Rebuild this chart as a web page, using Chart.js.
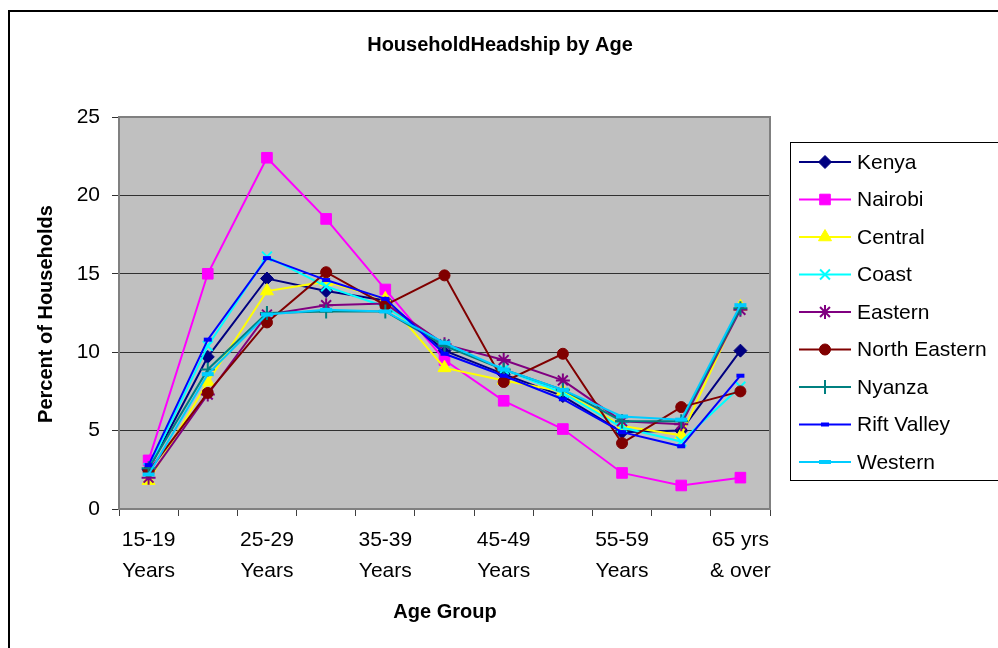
<!DOCTYPE html>
<html>
<head>
<meta charset="utf-8">
<title>HouseholdHeadship by Age</title>
<script src="https://cdn.jsdelivr.net/npm/chart.js@4.4.1/dist/chart.umd.min.js"></script>
<style>
  html, body { margin: 0; padding: 0; background: #fff; }
  canvas { display: block; }
</style>
</head>
<body>
<canvas id="chart" width="998" height="648"></canvas>
<script>
const FONT = '"Liberation Sans", Arial, sans-serif';

/* ------------ data ------------ */
const ageGroups = ['15-19 Years', '20-24 Years', '25-29 Years', '30-34 Years', '35-39 Years', '40-44 Years',
                   '45-49 Years', '50-54 Years', '55-59 Years', '60-64 Years', '65 yrs & over'];
const tickLabels = [['15-19', 'Years'], '', ['25-29', 'Years'], '', ['35-39', 'Years'], '',
                    ['45-49', 'Years'], '', ['55-59', 'Years'], '', ['65 yrs', '& over']];
const yTicks = [0, 5, 10, 15, 20, 25];

const kenya        = [2.5, 9.7, 14.7, 13.9, 13.3, 10.1, 8.6, 7.2, 4.9, 5.0, 10.1];
const nairobi      = [3.1, 15.0, 22.4, 18.5, 14.0, 9.5, 6.9, 5.1, 2.3, 1.5, 2.0];
const central      = [1.8, 8.1, 13.9, 14.5, 13.4, 9.0, 8.2, 7.5, 5.3, 4.7, 12.9];
const coast        = [2.6, 10.4, 16.1, 14.2, 12.9, 10.5, 8.9, 7.4, 5.2, 4.3, 7.8];
const eastern      = [2.0, 7.3, 12.4, 13.0, 13.1, 10.5, 9.5, 8.2, 5.6, 5.4, 12.7];
const northEastern = [2.4, 7.4, 11.9, 15.1, 13.0, 14.9, 8.1, 9.9, 4.2, 6.5, 7.5];
const nyanza       = [2.6, 8.9, 12.5, 12.6, 12.6, 10.4, 8.9, 7.6, 5.6, 5.6, 12.8];
const riftValley   = [2.8, 10.8, 16.0, 14.6, 13.4, 9.9, 8.5, 7.0, 4.9, 4.0, 8.5];
const western      = [2.2, 8.6, 12.4, 12.7, 12.6, 10.6, 8.9, 7.6, 5.9, 5.7, 13.0];

/* ------------ series styling ------------ */
const series = [
  { label: 'Kenya',         data: kenya,        color: '#000080', style: 'rectRot',  r: 6.5, bw: 1 },
  { label: 'Nairobi',       data: nairobi,      color: '#FF00FF', style: 'rect',     r: 7.5, bw: 1 },
  { label: 'Central',       data: central,      color: '#FFFF00', style: 'triangle', r: 7.5, bw: 1 },
  { label: 'Coast',         data: coast,        color: '#00FFFF', style: 'crossRot', r: 7,   bw: 2 },
  { label: 'Eastern',       data: eastern,      color: '#800080', style: 'star',     r: 7,   bw: 2 },
  { label: 'North Eastern', data: northEastern, color: '#800000', style: 'circle',   r: 5.5, bw: 1 },
  { label: 'Nyanza',        data: nyanza,       color: '#008080', style: 'cross',    r: 7,   bw: 2 },
  { label: 'Rift Valley',   data: riftValley,   color: '#0000FF', style: 'line',     r: 4,   bw: 4 },
  { label: 'Western',       data: western,      color: '#00CCFF', style: 'line',     r: 6,   bw: 4 },
];

/* ------------ plugins ------------ */
const plotFrame = {
  id: 'plotFrame',
  beforeDraw(chart) {
    const { ctx, chartArea: a } = chart;
    ctx.save();
    ctx.fillStyle = '#fff';
    ctx.fillRect(0, 0, chart.width, chart.height);
    ctx.fillStyle = '#C0C0C0';
    ctx.fillRect(a.left, a.top, a.right - a.left, a.bottom - a.top);
    ctx.restore();
  },
  beforeDatasetsDraw(chart) {
    const { ctx, chartArea: a } = chart;
    ctx.save();
    ctx.strokeStyle = '#808080';
    ctx.lineWidth = 2;
    ctx.strokeRect(a.left, a.top, a.right - a.left, a.bottom - a.top);
    ctx.restore();
  }
};

const texts = {
  id: 'texts',
  afterDraw(chart) {
    const { ctx } = chart;
    ctx.save();
    // outer frame
    ctx.strokeStyle = '#000';
    ctx.lineWidth = 2;
    ctx.strokeRect(9, 11, 1200, 1200);

    ctx.fillStyle = '#000';
    ctx.textAlign = 'center';
    ctx.textBaseline = 'middle';
    ctx.font = `bold 20px ${FONT}`;
    ctx.fillText('HouseholdHeadship by Age', 500, 45);
    ctx.fillText('Age Group', 445, 612);
    ctx.translate(46, 314);
    ctx.rotate(-Math.PI / 2);
    ctx.fillText('Percent of Households', 0, 0);
    ctx.restore();
  }
};

const boxLegend = {
  id: 'boxLegend',
  afterDraw(chart) {
    const { ctx } = chart;
    ctx.save();
    ctx.fillStyle = '#fff';
    ctx.fillRect(791, 143, 300, 338);
    ctx.strokeStyle = '#000';
    ctx.lineWidth = 1;
    ctx.strokeRect(790.5, 142.5, 300, 338);
    ctx.font = `21px ${FONT}`;
    ctx.textAlign = 'left';
    ctx.textBaseline = 'middle';
    series.forEach((s, i) => {
      const y = 162 + i * 37.5;
      ctx.strokeStyle = s.color;
      ctx.lineWidth = 2;
      ctx.beginPath();
      ctx.moveTo(799, y);
      ctx.lineTo(851, y);
      ctx.stroke();
      ctx.fillStyle = s.color;
      ctx.lineWidth = s.bw;
      Chart.helpers.drawPoint(ctx, { pointStyle: s.style, radius: s.r, rotation: 0, borderWidth: s.bw }, 825, y);
      ctx.fillStyle = '#000';
      ctx.fillText(s.label, 857, y + 1);
    });
    ctx.restore();
  }
};

/* ------------ chart ------------ */
const datasets = series.map((s, i) => ({
  label: s.label,
  data: s.data,
  borderColor: s.color,
  backgroundColor: s.color,
  borderWidth: 2,
  tension: 0,
  pointStyle: s.style,
  pointRadius: s.r,
  pointHoverRadius: s.r,
  pointBorderWidth: s.bw,
  pointBackgroundColor: s.color,
  pointBorderColor: s.color,
  order: series.length - i,
  fill: false
}));

new Chart(document.getElementById('chart'), {
  type: 'line',
  data: { labels: ageGroups, datasets },
  options: {
    responsive: false,
    animation: false,
    events: [],
    layout: { padding: { top: 117, right: 228, bottom: 0, left: 0 } },
    plugins: { legend: { display: false }, title: { display: false }, tooltip: { enabled: false } },
    scales: {
      x: {
        offset: true,
        afterFit(scale) { scale.height = 139; },
        grid: { offset: true, drawOnChartArea: false, drawTicks: true, tickLength: 7, color: '#404040', lineWidth: 1 },
        border: { color: '#404040', width: 2 },
        ticks: {
          autoSkip: false, maxRotation: 0, minRotation: 0, padding: 9, color: '#000',
          font: { family: FONT, size: 21, lineHeight: 1.48 },
          callback: (v, i) => tickLabels[i]
        }
      },
      y: {
        min: yTicks[0],
        max: yTicks[yTicks.length - 1],
        afterFit(scale) { scale.width = 119; },
        afterBuildTicks(scale) { scale.ticks = yTicks.map(v => ({ value: v })); },
        grid: { color: '#303030', lineWidth: 1, tickLength: 7 },
        border: { color: '#404040', width: 2 },
        ticks: { padding: 12, color: '#000', font: { family: FONT, size: 21 } }
      }
    }
  },
  plugins: [plotFrame, texts, boxLegend]
});
</script>
</body>
</html>
